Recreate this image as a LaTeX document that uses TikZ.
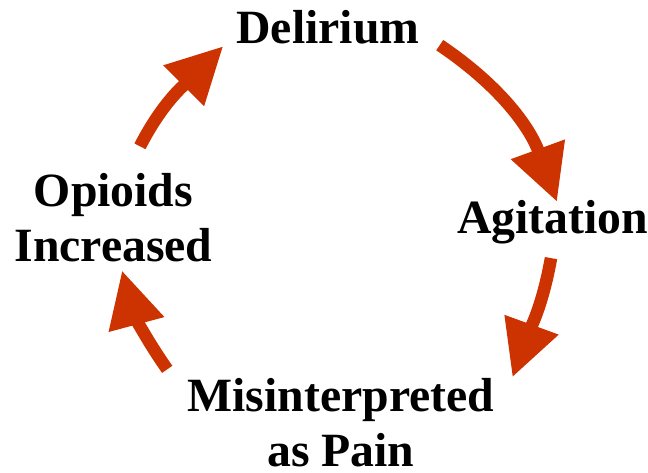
\documentclass[tikz,border=0pt]{standalone}
\usepackage{fontspec}
\setmainfont{Liberation Serif}
\usetikzlibrary{arrows.meta, positioning}
\definecolor{cyclered}{RGB}{204,51,0}

\begin{document}
\begin{tikzpicture}[
    x=0.75pt, y=0.75pt,
    stage/.style={inner sep=0pt, align=center, font=\fontsize{35.8}{41.25}\selectfont\bfseries},
    cycle/.style={line width=9.4pt, draw=cyclered, -{Triangle[width=40.5pt, length=42pt]}}
]
\useasboundingbox (0,0) rectangle (648,-472);

% Nodes
\node (delirium) [stage, anchor=base] at (328,-43.3) {Delirium};
\node (agitation) [stage, anchor=base] at (552.5,-233.3) {Agitation};
\node (misint) [stage, anchor=base] at (340.8,-466.7) {Misinterpreted\\as Pain};
\node (opioids) [stage, anchor=base] at (113.5,-261.7) {Opioids\\Increased};

% Arrows
\draw [cycle] ([shift={(20,-1)}]delirium.south east) to[out=-34, in=110] ([shift={(4.5,-2)}]agitation.north);
\draw [cycle] ([shift={(-1.5,-14)}]agitation.south) to[out=-100, in=70] ([shift={(18,1)}]misint.north east);
\draw [cycle] ([shift={(-20,9)}]misint.north west) to[out=125, in=-75] ([shift={(8.5,-8)}]opioids.south);
\draw [cycle] ([shift={(26.5,27)}]opioids.north) to[out=63, in=-135] ([shift={(-13,-2)}]delirium.south west);

\end{tikzpicture}
\end{document}
